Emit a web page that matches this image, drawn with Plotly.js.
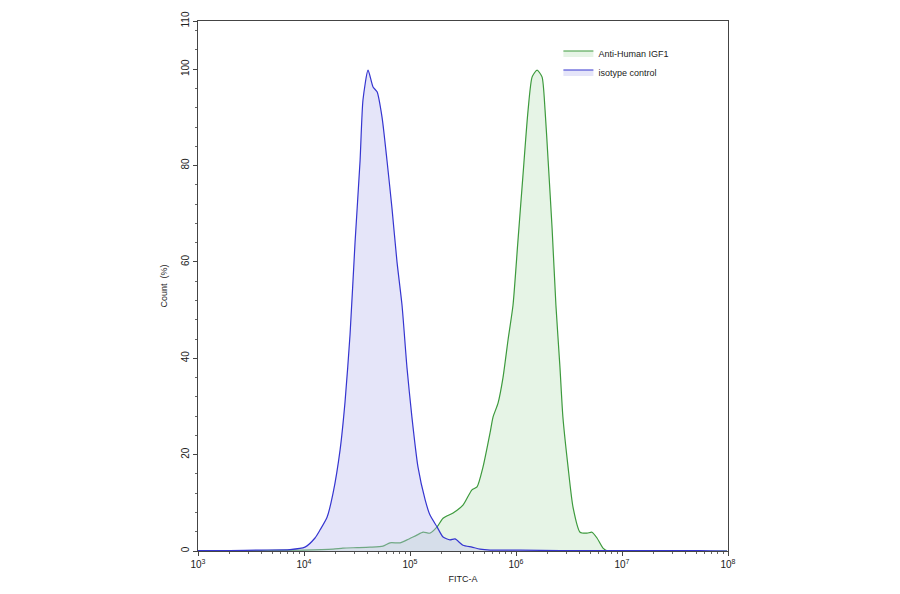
<!DOCTYPE html>
<html>
<head>
<meta charset="utf-8">
<script src="https://cdn.plot.ly/plotly-3.0.1.min.js"></script>
<style>
  html, body { margin: 0; padding: 0; background: #fff; }
  #chart { width: 900px; height: 594px; }
</style>
</head>
<body>
<div id="chart"></div>
<script>
// isotype control (blue)
const isoX = [1000, 2000, 3850, 7380, 10200, 12700, 14200, 16500, 18800, 21900, 24400, 27200, 30300, 33800,
  36000, 40200, 44800, 48900, 54500, 60700, 67700, 75400, 84100, 93700, 104000, 119000, 139000, 154000,
  180000, 205000, 238000, 266000, 316000, 384000, 457000, 569000, 1.09e6, 2.6e6, 9.57e6, 5.45e7, 9.8e7];
const isoY = [0.1, 0.1, 0.2, 0.3, 0.8, 2.7, 4.4, 7, 12, 21, 31, 45, 64, 81,
  93.6, 99.8, 96.3, 95.3, 90, 81, 71, 60, 51, 38, 28, 17.4, 10.6, 7.5,
  5, 2.9, 2.3, 2.5, 1.2, 0.8, 0.4, 0.2, 0.2, 0.1, 0.1, 0.1, 0];

// Anti-Human IGF1 (green)
const igfX = [1000, 3850, 9800, 18800, 23300, 31700, 42000, 55600, 64700, 80500, 93700, 116000, 133000,
  154000, 180000, 205000, 255000, 316000, 384000, 429000, 488000, 569000, 607000, 677000, 754000, 841000,
  937000, 1.04e6, 1.16e6, 1.30e6, 1.42e6, 1.58e6, 1.76e6, 1.88e6, 2.01e6, 2.19e6, 2.38e6, 2.60e6, 2.77e6,
  3.10e6, 3.45e6, 4.02e6, 4.68e6, 5.21e6, 5.81e6, 6.62e6, 7.38e6, 9.8e7];
const igfY = [0, 0.1, 0.2, 0.4, 0.6, 0.7, 0.8, 1.0, 1.7, 1.7, 2.3, 3.3, 3.9,
  3.7, 5, 6.8, 7.9, 9.5, 12.7, 13.3, 17.4, 24.5, 27.8, 30.7, 36, 43.8,
  51, 64, 77.6, 91.5, 98.4, 99.8, 98.4, 91.5, 81, 67, 51, 38, 27.8,
  17.4, 9.1, 3.9, 3.7, 3.9, 2.7, 0.6, 0, 0];

const yTicks = [0, 20, 40, 60, 80, 100, 110];
const xExps = [3, 4, 5, 6, 7, 8];
const xTicks = xExps.map(e => Math.pow(10, e));
const xLabels = xExps.map(e => '10<sup>' + e + '</sup>');
const xMinor = [];
[3, 4, 5, 6, 7].forEach(e => { for (let d = 2; d <= 9; d++) xMinor.push(d * Math.pow(10, e)); });

const traces = [
  {
    x: igfX, y: igfY, name: 'Anti-Human IGF1', type: 'scatter', mode: 'lines',
    line: { color: '#3d9a3d', width: 1.2, shape: 'spline', smoothing: 0.6 },
    fill: 'tozeroy', fillcolor: 'rgba(200,230,200,0.45)'
  },
  {
    x: isoX, y: isoY, name: 'isotype control', type: 'scatter', mode: 'lines',
    line: { color: '#3535d0', width: 1.2, shape: 'spline', smoothing: 0.6 },
    fill: 'tozeroy', fillcolor: 'rgba(190,190,240,0.4)'
  }
];

const font = { family: 'Liberation Sans, Arial, sans-serif', size: 10, color: '#222' };

const layout = {
  width: 900, height: 594,
  margin: { l: 198, r: 172, t: 21, b: 43 },
  paper_bgcolor: '#fff', plot_bgcolor: '#fff',
  font: font,
  showlegend: true,
  legend: {
    x: 0.68, y: 0.967, xanchor: 'left', yanchor: 'top',
    font: { family: font.family, size: 9, color: '#222' },
    bgcolor: 'rgba(0,0,0,0)', tracegroupgap: 0, itemwidth: 30
  },
  xaxis: {
    type: 'log', range: [3, 8],
    showline: true, linecolor: '#444', linewidth: 1, mirror: true,
    showgrid: false, zeroline: false,
    ticks: 'outside', ticklen: 4, tickcolor: '#444',
    tickmode: 'array', tickvals: xTicks, ticktext: xLabels,
    tickfont: { family: font.family, size: 10, color: '#222' },
    minor: { tickmode: 'array', tickvals: xMinor, ticks: 'outside', ticklen: 2, tickcolor: '#666', showgrid: false },
    title: { text: 'FITC-A', font: { family: font.family, size: 9, color: '#222' }, standoff: 6 }
  },
  yaxis: {
    range: [0, 110],
    showline: true, linecolor: '#444', linewidth: 1, mirror: true,
    showgrid: false, zeroline: false,
    ticks: 'outside', ticklen: 4, tickcolor: '#444',
    tickmode: 'array', tickvals: yTicks, ticktext: yTicks.map(String),
    tickangle: -90,
    tickfont: { family: font.family, size: 10, color: '#222' },
    minor: { dtick: 4, tick0: 0, ticks: 'outside', ticklen: 2, tickcolor: '#666', showgrid: false },
    title: { text: 'Count  (%)', font: { family: font.family, size: 9, color: '#222' }, standoff: 10 }
  }
};

Plotly.newPlot('chart', traces, layout, { displayModeBar: false, staticPlot: true });
</script>
</body>
</html>
